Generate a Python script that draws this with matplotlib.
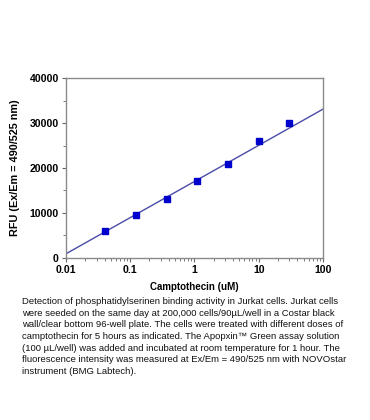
import matplotlib
matplotlib.use("Agg")
import matplotlib.pyplot as plt
from matplotlib.ticker import LogLocator, MultipleLocator

# camptothecin doses (uM) and RFU readings
dose = [0.041, 0.123, 0.37, 1.11, 3.33, 10, 30]
rfu = [6000, 9500, 13000, 17000, 21000, 26000, 30000]

# fitted line, read at the axis ends
fit_x = [0.01, 100]
fit_y = [900, 33100]

x_ticks = [0.01, 0.1, 1, 10, 100]
x_labels = ["0.01", "0.1", "1", "10", "100"]
y_ticks = [0, 10000, 20000, 30000, 40000]

caption = [
    "Detection of phosphatidylserinen binding activity in Jurkat cells. Jurkat cells",
    "were seeded on the same day at 200,000 cells/90\u00b5L/well in a Costar black",
    "wall/clear bottom 96-well plate. The cells were treated with different doses of",
    "camptothecin for 5 hours as indicated. The Apopxin\u2122 Green assay solution",
    "(100 \u00b5L/well) was added and incubated at room temperature for 1 hour. The",
    "fluorescence intensity was measured at Ex/Em = 490/525 nm with NOVOstar",
    "instrument (BMG Labtech).",
]

plt.rcParams['font.family'] = ['Liberation Sans', 'DejaVu Sans']

fig = plt.figure(figsize=(3.7, 4.2), dpi=100)
ax = fig.add_axes([0.178, 0.386, 0.695, 0.428])

ax.plot(fit_x, fit_y, color='#4a4aa8', lw=1.0, zorder=2)
ax.plot(dose, rfu, 's', color='#0000cc', ms=4, zorder=3)

ax.set_xscale('log')
ax.set_xlim(0.01, 100)
ax.set_ylim(0, 40000)
ax.set_xticks(x_ticks)
ax.set_xticklabels(x_labels)
ax.xaxis.set_minor_locator(LogLocator(base=10, subs=range(2, 10)))
ax.set_yticks(y_ticks)
ax.yaxis.set_minor_locator(MultipleLocator(5000))

for s in ax.spines.values():
    s.set_color('#8a8a8a')
    s.set_linewidth(1.0)
ax.tick_params(which='major', direction='out', length=3, width=0.8, color='#666666',
               labelsize=7.6, pad=2)
ax.tick_params(which='minor', direction='out', length=2, width=0.6, color='#666666')
for lab in ax.get_xticklabels() + ax.get_yticklabels():
    lab.set_fontweight('bold')

ax.set_xlabel("Camptothecin (uM)", fontsize=7, fontweight='bold', labelpad=5)
ax.set_ylabel("RFU (Ex/Em = 490/525 nm)", fontsize=7.8, fontweight='bold', labelpad=7)

fig.text(0.06, 0.293, "\n".join(caption), fontsize=6.8, va='top', ha='left',
         linespacing=1.38, color='#111111')

fig.savefig("out.png", dpi=100)
